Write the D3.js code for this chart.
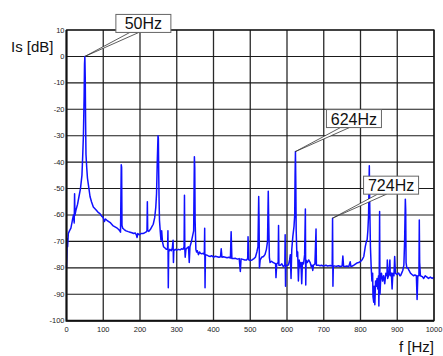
<!DOCTYPE html>
<html>
<head>
<meta charset="utf-8">
<script src="https://cdn.jsdelivr.net/npm/d3@7"></script>
<style>
  body { margin: 0; background: #fff; }
  svg { display: block; font-family: "Liberation Sans", Arial, sans-serif; }
</style>
</head>
<body>
<svg id="chart" width="443" height="356"></svg>
<script>
// spectrum values: [frequency Hz, level dB]
const spectrum = [
  [0,-80],[1,-76],[2,-69],[3,-72],[5,-67],[8,-66],[12,-65],[16,-62],[19,-60],[21,-63],[22,-52],[23,-60],
  [26,-58],[30,-56],[34,-53],[38,-50],[42,-45],[44,-38],[46,-30],[48,-15],[49,-3],[50,0],[51,-8],[52,-25],
  [53,-37],[55,-42],[57,-46],[60,-49],[64,-53],[68,-55],[73,-57],[80,-58],[86,-59],[91,-59.5],[96,-60.5],
  [100,-61],[103,-62.5],[106,-61.5],[110,-62],[115,-62.5],[120,-63],[126,-64],[132,-64.5],[138,-65],
  [142,-65.5],[145,-66],[147,-66.5],[149,-41],[150,-42],[151,-64],[153,-65],[157,-65.5],[162,-66],
  [168,-66.3],[173,-66.5],[178,-66.7],[183,-67],[187,-66.8],[190,-67.5],[192,-68.5],[194,-67],[198,-67.5],
  [203,-67],[208,-67],[212,-66.8],[216,-66.5],[219,-66],[220,-55],[221,-66],[224,-66.2],[228,-65.5],
  [232,-64.5],[236,-63.5],[240,-61],[243,-57],[245,-52],[247,-40],[249,-30],[250,-31],[251,-45],[252,-55],
  [253,-62],[255,-66],[257,-69.5],[259,-66],[261,-70],[264,-72],[268,-72.5],[272,-73],[275,-73],[276,-66],
  [277,-87.5],[278,-74],[281,-73],[285,-73.5],[288,-72.5],[290,-69.6],[291,-78],[292,-73.5],[296,-73],
  [300,-73.3],[305,-73],[309,-73.2],[313,-72.8],[317,-73],[320,-72],[321,-52.5],[322,-73],[323,-76],
  [325,-73],[328,-72.5],[332,-72],[334,-78],[336,-72],[340,-70],[343,-68],[346,-66],[348,-38],[349,-42],
  [350,-62],[352,-73],[354,-74],[356,-73.5],[359,-75],[362,-74],[364,-74.4],[368,-74.7],[372,-74.5],
  [375,-75],[376,-65],[377,-87.5],[378,-75],[382,-75.2],[386,-75.5],[391,-75.7],[395,-75.4],[400,-76],
  [405,-75.6],[410,-75.8],[415,-76],[419,-75.8],[421,-72.8],[423,-76],[427,-75.8],[432,-76],[437,-76.2],
  [442,-76],[446,-76.3],[448,-66.3],[450,-76.5],[455,-76.5],[460,-76.4],[465,-76.7],[470,-76.5],
  [473,-81.4],[475,-76.6],[480,-76.8],[485,-77],[490,-77],[493,-76.5],[494,-68.2],[496,-77],[500,-77.2],
  [505,-77],[510,-76.5],[514,-76],[518,-74],[521,-72],[523,-53],[524,-62],[525,-80],[527,-77],[531,-76],
  [536,-75.7],[540,-75],[544,-73],[547,-70],[549,-51],[550,-60],[552,-76],[554,-78],[558,-77.5],[562,-78],
  [566,-78.2],[569,-78.5],[570,-83.7],[572,-78.5],[576,-78],[577,-64],[578,-79],[582,-79],[586,-78.5],
  [590,-79.5],[594,-79],[595,-67.5],[596,-87],[597,-79],[601,-79],[604,-78.9],[607,-77],[609,-75],
  [611,-84],[613,-73],[616,-68],[619,-64.4],[621,-60],[622,-45],[623,-36],[624,-48],[625,-66],[627,-75.7],
  [629,-74],[631,-85],[633,-77],[636,-79.6],[638,-78],[640,-86],[642,-78],[645,-78.5],[648,-75],
  [650,-57.7],[651,-86.5],[652,-77],[655,-78],[659,-77],[663,-78],[666,-79.5],[668,-79],[670,-81],
  [672,-79],[676,-78.5],[679,-65.3],[680,-79],[683,-79],[686,-79],[690,-79.2],[694,-79],[698,-79.3],
  [702,-79.2],[706,-79],[710,-79.3],[714,-79.2],[718,-79.1],[721,-79.3],[723,-79],[724,-61.2],[725,-87],
  [726,-79.2],[730,-79.3],[735,-79.4],[740,-79.2],[745,-79.5],[750,-79.3],[752,-75.5],[754,-79.4],
  [758,-79.5],[763,-79.3],[768,-79.6],[772,-77.7],[774,-79.5],[778,-79.3],[782,-79],[786,-78.6],
  [790,-78.2],[795,-78],[800,-77.6],[805,-76.8],[809,-75.7],[813,-72],[816,-70],[818,-69.4],[820,-66],
  [822,-60],[823,-50],[824,-41.4],[825,-55],[827,-72],[829,-79.5],[831,-85],[833,-82],[834,-90.9],
  [836,-93],[837,-87],[839,-94],[841,-85],[843,-87],[845,-84],[847,-88],[849,-83],[850,-94.4],[851,-82],
  [852,-58.7],[853,-90],[855,-84],[857,-82],[860,-85],[863,-83],[866,-86],[869,-82],[872,-83],[873,-77],
  [874,-84],[877,-82.5],[880,-77],[881,-83],[884,-82],[886,-88],[888,-82],[891,-83],[893,-75.7],[895,-82],
  [899,-82.5],[904,-82],[907,-83],[909,-83],[912,-82],[915,-81],[918,-79],[920,-70],[922,-54],[923,-58],
  [924,-78],[926,-80],[929,-80],[932,-81],[936,-82],[940,-82.5],[944,-83],[948,-82.7],[952,-83],
  [954,-92],[956,-83],[959,-83],[960,-61.9],[961,-78],[963,-83],[968,-83.3],[972,-84],[976,-83],
  [981,-83.5],[985,-84],[990,-83.5],[995,-84],[1000,-83.5]
];

const xTicks = [0, 100, 200, 300, 400, 500, 600, 700, 800, 900, 1000];
const yTicks = [10, 0, -10, -20, -30, -40, -50, -60, -70, -80, -90, -100];

// labelled peaks: text, frequency, level
const peakLabels = ["50Hz", "624Hz", "724Hz"];
const peakFreqs = [50, 623, 724];
const peakLevels = [0, -36, -61.2];

const svg = d3.select("#chart");
const plot = {left: 66.5, right: 434, top: 30, bottom: 320.7};

const x = d3.scaleLinear().domain([0, 1000]).range([plot.left, plot.right]);
const y = d3.scaleLinear().domain([-100, 10]).range([plot.bottom, plot.top]);

// grid
const grid = svg.append("g");
grid.selectAll(".vg")
    .data(xTicks)
    .enter().append("line")
    .attr("x1", d => x(d)).attr("x2", d => x(d))
    .attr("y1", plot.top).attr("y2", plot.bottom)
    .attr("stroke", "#2a2a2a")
    .attr("stroke-width", 1.3);
grid.selectAll(".hg")
    .data(yTicks)
    .enter().append("line")
    .attr("x1", plot.left).attr("x2", plot.right)
    .attr("y1", d => y(d)).attr("y2", d => y(d))
    .attr("stroke", "#1a1a1a")
    .attr("stroke-width", 1.1);

// spectrum trace
const line = d3.line()
    .x(d => x(d[0]))
    .y(d => y(d[1]));

svg.append("path")
    .datum(spectrum)
    .attr("fill", "none")
    .attr("stroke", "#1010ff")
    .attr("stroke-width", 1.5)
    .attr("stroke-linejoin", "round")
    .attr("d", line);

// frame
svg.append("rect")
    .attr("x", plot.left).attr("y", plot.top)
    .attr("width", plot.right - plot.left)
    .attr("height", plot.bottom - plot.top)
    .attr("fill", "none")
    .attr("stroke", "#111")
    .attr("stroke-width", 1.2);
svg.append("path")
    .attr("d", "M" + plot.left + "," + plot.top + "V" + plot.bottom + "H" + plot.right)
    .attr("fill", "none")
    .attr("stroke", "#111")
    .attr("stroke-width", 2);

// tick labels
svg.append("g").selectAll("text")
    .data(yTicks)
    .enter().append("text")
    .attr("x", plot.left - 2)
    .attr("y", d => y(d) + 2.5)
    .attr("text-anchor", "end")
    .attr("font-size", 7.5)
    .attr("fill", "#222")
    .text(d => d);

svg.append("g").selectAll("text")
    .data(xTicks)
    .enter().append("text")
    .attr("x", d => x(d))
    .attr("y", plot.bottom + 11)
    .attr("text-anchor", "middle")
    .attr("font-size", 7.5)
    .attr("fill", "#222")
    .text(d => d);

// axis titles
svg.append("text")
    .attr("x", 11).attr("y", 52)
    .attr("font-size", 15)
    .attr("fill", "#111")
    .text("Is [dB]");
svg.append("text")
    .attr("x", 399).attr("y", 352)
    .attr("font-size", 15)
    .attr("fill", "#111")
    .text("f [Hz]");

// callouts
const callouts = svg.append("g").selectAll("g")
    .data(peakLabels.map((t, i) => ({text: t, f: peakFreqs[i], v: peakLevels[i]})))
    .enter().append("g")
    .attr("transform", d => "translate(" + x(d.f) + "," + y(d.v) + ")");

callouts.append("path")
    .attr("d", "M0,0L45,-24L54,-24Z")
    .attr("fill", "#fff")
    .attr("stroke", "#333")
    .attr("stroke-width", 0.8);

callouts.append("rect")
    .attr("x", 31).attr("y", -42)
    .attr("width", 55).attr("height", 18)
    .attr("fill", "#fff")
    .attr("stroke", "#666")
    .attr("stroke-width", 1);

callouts.append("text")
    .attr("x", 58.5).attr("y", -27)
    .attr("text-anchor", "middle")
    .attr("font-size", 16)
    .attr("fill", "#111")
    .text(d => d.text);
</script>
</body>
</html>
